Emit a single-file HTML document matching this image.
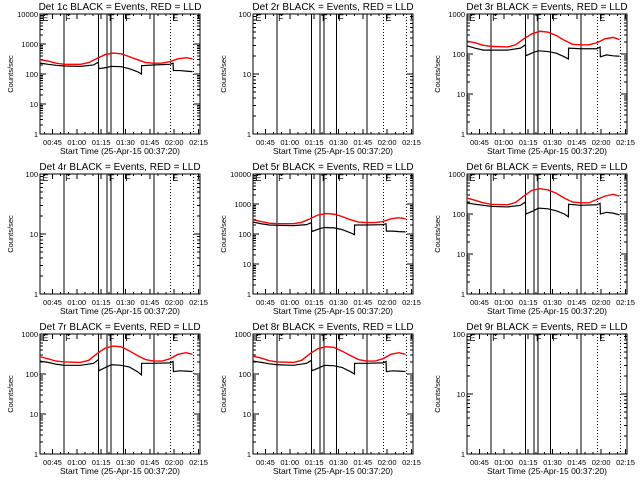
<!DOCTYPE html>
<html><head><meta charset="utf-8"><style>
html,body{margin:0;padding:0;background:#fff;width:640px;height:480px;overflow:hidden}
svg{display:block;font-family:"Liberation Sans",sans-serif}
</style></head><body>
<svg id="c" width="640" height="480" xmlns="http://www.w3.org/2000/svg" shape-rendering="crispEdges"></svg>
<script>
// minutes since 00:37:20
const tA = [0,5,10,15,25,33,36,36.2,41,44,50,55,60,62.5,62.6,70,80,82,82.2,86,90,94];
const tR = [0,5,10,15,25,30,35,40,45,50,55,60,65,70,75,80,85,90,94];
const black1 = [230,210,195,185,180,200,250,150,165,180,175,150,120,100,190,200,210,230,130,130,125,120];
const red1 = [300,270,230,210,210,240,330,440,500,470,380,300,240,230,230,260,320,350,320];
const black3 = [160,140,125,125,125,140,170,90,110,120,115,105,85,75,140,135,135,150,85,95,90,88];
const red3 = [210,190,165,155,150,170,240,320,370,350,290,220,175,170,170,190,240,260,230];
const black5 = [250,220,200,195,190,205,240,120,150,165,160,140,110,95,200,200,205,220,125,125,120,118];
const red5 = [300,260,230,220,220,245,320,430,480,460,380,300,250,240,240,260,320,350,320];
const black6 = [190,175,165,155,150,165,200,100,120,140,135,120,100,85,175,165,170,185,100,110,105,95];
const red6 = [250,220,190,175,170,195,280,390,430,400,330,250,200,190,190,230,280,310,280];
const black7 = [210,195,175,165,165,185,230,120,150,170,165,150,115,95,185,185,190,205,115,120,118,115];
const red7 = [270,240,210,200,195,220,320,440,500,480,380,290,230,210,210,240,310,340,310];
const black8 = [210,195,180,170,165,185,220,120,145,165,160,145,115,100,185,185,190,205,115,120,118,115];
const red8 = [280,250,215,200,195,220,320,430,480,460,370,290,230,210,210,240,310,340,310];
const titles = ["Det 1c","Det 2r","Det 3r","Det 4r","Det 5r","Det 6r","Det 7r","Det 8r","Det 9r"];
const yMaxDec = [4,2,3,2,4,3,3,3,2];
const blacks = [black1,null,black3,null,black5,black6,black7,black8,null];
const reds = [red1,null,red3,null,red5,red6,red7,red8,null];
const solidTimes = [14.8,36.2,41.3,43.9,51.6,70.4];
const dottedTimes = [80.3,94.5];
const xTickLabels = ["00:45","01:00","01:15","01:30","01:45","02:00","02:15"];
const xTickTimes = [7.67,22.67,37.67,52.67,67.67,82.67,97.67];
const markTimes = [1.5,15.5,42.5,52.5,81.5];
const markLabels = ["E","F","F","F","E"];

const NS="http://www.w3.org/2000/svg";
const svg=document.getElementById('c');
function mk(tag,attrs,parent){const e=document.createElementNS(NS,tag);for(const k in attrs)e.setAttribute(k,attrs[k]);(parent||svg).appendChild(e);return e;}
const colX=[0,213,427], rowY=[0,160,320];
const PL=40, PR=200, PT=14, PB=134, TMAX=98.6;
titles.forEach((title,i)=>{
  const ox=colX[i%3], oy=rowY[Math.floor(i/3)];
  const g=mk('g',{});
  
  
  const xs=t=>ox+PL+t*(PR-PL)/TMAX;
  const dec=yMaxDec[i];
  const ys=v=>oy+PB-(Math.log10(v)/dec)*(PB-PT);
  const tt=mk('text',{x:ox+120,y:oy+10,'text-anchor':'middle','font-size':'10'},g);
  tt.textContent=title+" BLACK = Events, RED = LLD";
  
  
  const yl=mk('text',{x:0,y:0,'text-anchor':'middle','font-size':'7.5',transform:`translate(${ox+13},${oy+74}) rotate(-90)`},g);
  yl.textContent="Counts/sec";
  
  
  const xl=mk('text',{x:ox+120,y:oy+154,'text-anchor':'middle','font-size':'8.5'},g);
  xl.textContent="Start Time (25-Apr-15 00:37:20)";
  
  
  const fr=mk('rect',{x:ox+PL,y:oy+PT,width:PR-PL,height:PB-PT,fill:'none',stroke:'#000','stroke-width':1},g);
  
  
  for(let d=0;d<=dec;d++){
    const y=ys(Math.pow(10,d));
    mk('line',{x1:ox+PL,x2:ox+PL+6,y1:y,y2:y,stroke:'#000'},g);
    mk('line',{x1:ox+PR-6,x2:ox+PR,y1:y,y2:y,stroke:'#000'},g);
    const lb=mk('text',{x:ox+PL-2,y:y+3,'text-anchor':'end','font-size':'7.5'},g);
    lb.textContent=String(Math.pow(10,d));
    
    
    if(d<dec){for(let m=2;m<=9;m++){const ym=ys(m*Math.pow(10,d));
      mk('line',{x1:ox+PL,x2:ox+PL+3,y1:ym,y2:ym,stroke:'#000'},g);
      mk('line',{x1:ox+PR-3,x2:ox+PR,y1:ym,y2:ym,stroke:'#000'},g);}}
  }
  xTickTimes.forEach((t,k)=>{
    const x=xs(t);
    mk('line',{x1:x,x2:x,y1:oy+PB,y2:oy+PB-5,stroke:'#000'},g);
    mk('line',{x1:x,x2:x,y1:oy+PT,y2:oy+PT+5,stroke:'#000'},g);
    const lb=mk('text',{x:x,y:oy+145,'text-anchor':'middle','font-size':'7.5'},g);
    lb.textContent=xTickLabels[k];
    
    
  });
  for(let t=2.67;t<TMAX;t+=5){const x=xs(t);
    mk('line',{x1:x,x2:x,y1:oy+PB,y2:oy+PB-2,stroke:'#000'},g);
    mk('line',{x1:x,x2:x,y1:oy+PT,y2:oy+PT+2,stroke:'#000'},g);}
  solidTimes.forEach(t=>{const l=mk('line',{x1:xs(t),x2:xs(t),y1:oy+PT,y2:oy+PB,stroke:'#000'},g);
    });
  dottedTimes.forEach(t=>{const l=mk('line',{x1:xs(t),x2:xs(t),y1:oy+PT,y2:oy+PB,stroke:'#000','stroke-dasharray':'1,2'},g);
    });
  markTimes.forEach((t,k)=>{const m=mk('text',{x:xs(t),y:oy+PT+7,'font-size':'9'},g);
    m.textContent=markLabels[k];
    });
  if(blacks[i]){
    const bp=mk('polyline',{points:tA.map((t,k)=>xs(t)+','+ys(blacks[i][k])).join(' '),fill:'none',stroke:'#000','stroke-width':1.2,'shape-rendering':'auto'},g);
    
    const rp=mk('polyline',{points:tR.map((t,k)=>xs(t)+','+ys(reds[i][k])).join(' '),fill:'none',stroke:'#f00','stroke-width':1.4,'shape-rendering':'auto'},g);
    
  }
});
</script>
</body></html>
